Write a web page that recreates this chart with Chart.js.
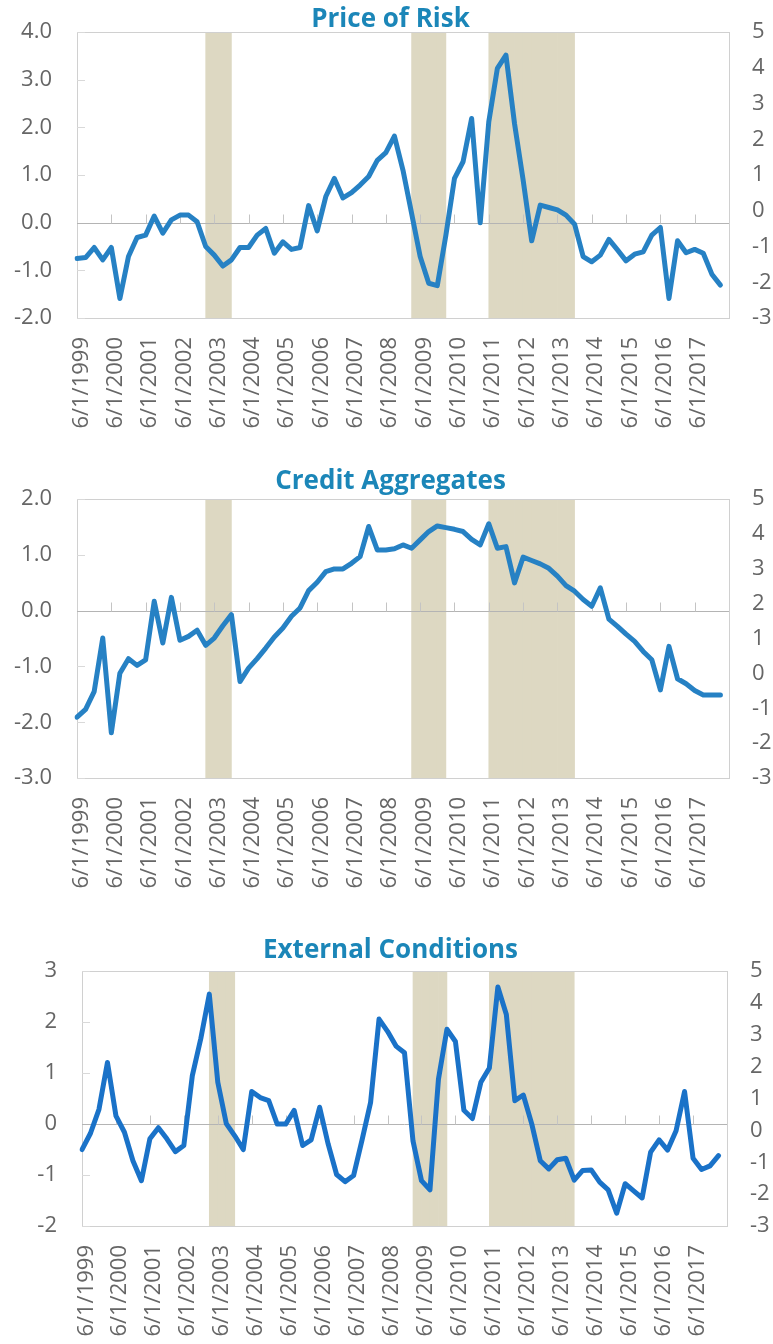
<!DOCTYPE html>
<html>
<head>
<meta charset="utf-8">
<title>Price of Risk, Credit Aggregates, External Conditions</title>
<script src="https://cdn.jsdelivr.net/npm/chart.js@4.4.1/dist/chart.umd.min.js"></script>
<style>
  html, body { margin: 0; padding: 0; background: #fff; }
  body { width: 773px; height: 1344px; position: relative; overflow: hidden; }
  .panel { position: absolute; left: 0; width: 773px; }
</style>
</head>
<body>
<div class="panel" style="top:-6px;height:456px"><canvas id="chartRisk"></canvas></div>
<div class="panel" style="top:461px;height:446px"><canvas id="chartCredit"></canvas></div>
<div class="panel" style="top:933px;height:411px"><canvas id="chartExternal"></canvas></div>
<script>
// yearly tick labels shown on the x axis (every 4th quarter)
const yearTicks = ['6/1/1999', '6/1/2000', '6/1/2001', '6/1/2002', '6/1/2003', '6/1/2004',
  '6/1/2005', '6/1/2006', '6/1/2007', '6/1/2008', '6/1/2009', '6/1/2010', '6/1/2011',
  '6/1/2012', '6/1/2013', '6/1/2014', '6/1/2015', '6/1/2016', '6/1/2017'];

// shaded periods (first and last quarter)
const recessions = [
  ['3/1/2003', '9/1/2003'],
  ['3/1/2009', '12/1/2009'],
  ['6/1/2011', '9/1/2013']
];

const priceOfRisk = [-0.75, -0.73, -0.52, -0.78, -0.52, -1.59, -0.71, -0.31, -0.26, 0.14,
  -0.22, 0.06, 0.16, 0.16, 0.02, -0.5, -0.68, -0.91, -0.78, -0.52,
  -0.52, -0.26, -0.12, -0.64, -0.4, -0.56, -0.52, 0.36, -0.17, 0.55,
  0.93, 0.52, 0.63, 0.79, 0.97, 1.31, 1.47, 1.82, 1.1, 0.2,
  -0.71, -1.27, -1.32, -0.26, 0.93, 1.28, 2.19, 0.0, 2.12, 3.24,
  3.52, 2.08, 0.9, -0.38, 0.37, 0.32, 0.27, 0.16, -0.03, -0.71,
  -0.82, -0.68, -0.35, -0.57, -0.8, -0.66, -0.61, -0.26, -0.1, -1.59,
  -0.38, -0.63, -0.56, -0.64, -1.08, -1.31];

const creditAggregates = [-1.91, -1.77, -1.45, -0.49, -2.19, -1.12, -0.86, -0.98, -0.88, 0.17,
  -0.58, 0.24, -0.53, -0.46, -0.35, -0.62, -0.49, -0.27, -0.07, -1.27,
  -1.03, -0.86, -0.67, -0.47, -0.31, -0.1, 0.05, 0.36, 0.51, 0.7,
  0.75, 0.75, 0.85, 0.97, 1.51, 1.09, 1.09, 1.11, 1.18, 1.12,
  1.27, 1.42, 1.52, 1.49, 1.46, 1.42, 1.28, 1.18, 1.56, 1.12,
  1.15, 0.5, 0.96, 0.9, 0.84, 0.76, 0.62, 0.45, 0.35, 0.2,
  0.08, 0.41, -0.15, -0.28, -0.42, -0.55, -0.73, -0.88, -1.42, -0.64,
  -1.22, -1.31, -1.43, -1.51, -1.51, -1.51];

const externalConditions = [-0.5, -0.18, 0.29, 1.21, 0.16, -0.16, -0.72, -1.11, -0.29, -0.07,
  -0.29, -0.54, -0.42, 0.95, 1.68, 2.55, 0.82, 0.01, -0.23, -0.5,
  0.64, 0.52, 0.46, 0.0, 0.0, 0.27, -0.42, -0.31, 0.33, -0.39,
  -0.99, -1.13, -1.01, -0.31, 0.42, 2.06, 1.82, 1.53, 1.4, -0.33,
  -1.11, -1.29, 0.88, 1.86, 1.62, 0.27, 0.11, 0.82, 1.1, 2.69,
  2.15, 0.46, 0.57, 0.0, -0.72, -0.88, -0.7, -0.67, -1.1, -0.91,
  -0.9, -1.14, -1.29, -1.75, -1.17, -1.31, -1.45, -0.55, -0.31, -0.51,
  -0.13, 0.64, -0.67, -0.89, -0.82, -0.62];

// quarterly categories built from the yearly labels
const quarterMonths = [6, 9, 12, 3];
const categories = [];
yearTicks.forEach(t => {
  const yr = +t.split('/')[2];
  quarterMonths.forEach((m, q) => categories.push(m + '/1/' + (q === 3 ? yr + 1 : yr)));
});
// the line sits on the quarter boundaries, so it gets one more slot
const lineSlots = categories.concat(['6/1/2018']);

const recessionBars = categories.map((c, i) => {
  const hit = recessions.some(r => i >= categories.indexOf(r[0]) && i <= categories.indexOf(r[1]));
  return hit ? [-3, 5] : null;
});

const tickColor = '#666666';
const fontFamily = "'Open Sans', 'Noto Sans', sans-serif";

// frame, zero line and small tick marks, drawn over the bands but under the line
const axisDecor = {
  id: 'axisDecor',
  beforeDatasetDraw(chart, args) {
    if (args.meta.type !== 'line') return;
    const { ctx, chartArea: a, scales } = chart;
    const y = scales.y, xl = scales.xLine;
    const y0 = Math.round(y.getPixelForValue(0)) + 0.5;
    ctx.save();
    ctx.lineWidth = 1;
    ctx.strokeStyle = '#d0d0d0';
    ctx.strokeRect(Math.round(a.left) + 0.5, Math.round(a.top) + 0.5, Math.round(a.width), Math.round(a.height));
    ctx.strokeStyle = '#d9d9d9';
    y.ticks.forEach(t => {
      const py = Math.round(y.getPixelForValue(t.value)) + 0.5;
      ctx.beginPath(); ctx.moveTo(a.left, py); ctx.lineTo(a.left + 8, py); ctx.stroke();
    });
    ctx.strokeStyle = '#b4b4b4';
    ctx.beginPath(); ctx.moveTo(a.left, y0); ctx.lineTo(a.right, y0); ctx.stroke();
    ctx.strokeStyle = '#c4c4c4';
    for (let i = 4; i < categories.length; i += 4) {
      const px = Math.round(xl.getPixelForValue(i)) + 0.5;
      ctx.beginPath(); ctx.moveTo(px, y0); ctx.lineTo(px, y0 - 9); ctx.stroke();
    }
    ctx.restore();
  }
};

function makePanel(id, p) {
  return new Chart(document.getElementById(id), {
    type: 'bar',
    data: {
      labels: categories,
      datasets: [{
        type: 'line',
        label: p.title,
        data: p.values,
        xAxisID: 'xLine',
        yAxisID: 'y',
        borderColor: p.color,
        borderWidth: 5,
        pointRadius: 0,
        tension: 0,
        borderJoinStyle: 'round',
        borderCapStyle: 'round',
        order: 0
      }, {
        type: 'bar',
        label: 'recession',
        data: recessionBars,
        xAxisID: 'x',
        yAxisID: 'y2',
        backgroundColor: '#ddd8c2',
        borderWidth: 0,
        order: 1
      }]
    },
    options: {
      responsive: true,
      maintainAspectRatio: false,
      animation: false,
      layout: { padding: { left: 8, right: 0, top: 0, bottom: 0 } },
      datasets: { bar: { barPercentage: 1, categoryPercentage: 1, grouped: false } },
      plugins: {
        legend: { display: false },
        tooltip: { enabled: false },
        title: {
          display: true,
          text: p.title,
          color: '#1b86b8',
          font: { family: fontFamily, size: 26, weight: 'bold', lineHeight: 1 },
          padding: p.titlePad
        }
      },
      scales: {
        x: {
          type: 'category',
          offset: true,
          grid: { display: false, drawTicks: false },
          border: { display: false },
          ticks: {
            autoSkip: false,
            minRotation: 90,
            maxRotation: 90,
            padding: 19,
            color: tickColor,
            font: { family: fontFamily, size: 22 },
            callback: function (v, i) { return i % 4 === 0 ? this.getLabelForValue(v) : ''; }
          },
          afterFit: s => { s.height = p.xHeight; }
        },
        xLine: {
          type: 'category',
          labels: lineSlots,
          offset: false,
          display: false
        },
        y: {
          position: 'left',
          min: p.min,
          max: p.max,
          grid: { display: false, drawTicks: false },
          border: { display: false },
          ticks: {
            stepSize: 1,
            padding: 25,
            color: tickColor,
            font: { family: fontFamily, size: 22 },
            callback: v => v.toFixed(p.decimals)
          },
          afterFit: s => { s.width = p.leftWidth; }
        },
        y2: {
          position: 'right',
          min: -3,
          max: 5,
          grid: { display: false, drawTicks: false },
          border: { display: false },
          ticks: {
            stepSize: 1,
            padding: 23,
            color: tickColor,
            font: { family: fontFamily, size: 22 }
          },
          afterFit: s => { s.width = p.rightWidth; }
        }
      }
    },
    plugins: [axisDecor]
  });
}

makePanel('chartRisk', {
  title: 'Price of Risk', values: priceOfRisk, color: '#2681c4',
  min: -2, max: 4, decimals: 1, titlePad: { top: 0, bottom: 0 },
  xHeight: 132, leftWidth: 69, rightWidth: 44
});
makePanel('chartCredit', {
  title: 'Credit Aggregates', values: creditAggregates, color: '#2681c4',
  min: -3, max: 2, decimals: 1, titlePad: { top: 0, bottom: 4.5 },
  xHeight: 129, leftWidth: 69, rightWidth: 44
});
makePanel('chartExternal', {
  title: 'External Conditions', values: externalConditions, color: '#1a72c8',
  min: -2, max: 3, decimals: 0, titlePad: { top: 0, bottom: 7.5 },
  xHeight: 118, leftWidth: 74, rightWidth: 46
});
</script>
</body>
</html>
